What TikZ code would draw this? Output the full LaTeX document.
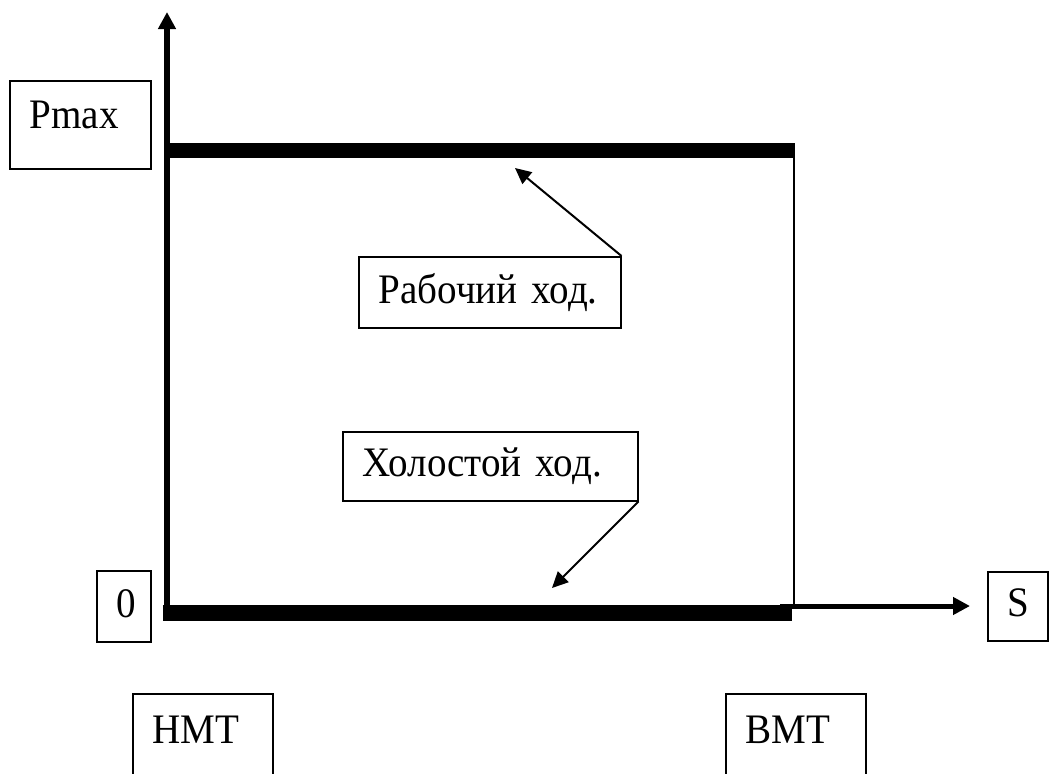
\documentclass[tikz,border=0pt]{standalone}
\usepackage{fontspec}
\setmainfont{Liberation Serif}[FakeStretch=0.93]
\usetikzlibrary{arrows.meta}
\begin{document}
\begin{tikzpicture}[x=1pt,y=-1pt,
  box/.style={draw, line width=1.5pt, inner xsep=20pt, inner ysep=0pt, minimum height=0pt,
              align=left, anchor=north west, font=\fontsize{42}{50}\selectfont},
  axisline/.style={line width=6pt, -{Triangle[length=17pt,width=17pt]}},
  barline/.style={line width=15pt},
  thinline/.style={line width=2pt},
  pointer/.style={line width=2pt, -{Triangle[length=16pt,width=15pt]}}]
\clip (0,0) rectangle (1050,774);
\fill[white] (0,0) rectangle (1050,774);

% boxes (text left-aligned, 20pt from the left edge)
\node[box, text width=101pt, text height=48pt, text depth=40pt] (pmax) at (9,80) {Pmax};
\node[box, text width=222pt, text height=47pt, text depth=24pt] (rab) at (358,256) {Рабочий ход.};
\node[box, text width=255pt, text height=45pt, text depth=24pt] (hol) at (342,431) {Холостой ход.};
\node[box, text width=14pt, text height=47pt, text depth=24pt] (zero) at (96,570) {0};
\node[box, text width=20pt, text height=45pt, text depth=24pt] (s) at (987,571) {S};
\node[box, text width=100pt, text height=50pt, text depth=60pt] (nmt) at (132,693) {НМТ};
\node[box, text width=100pt, text height=50pt, text depth=60pt] (vmt) at (725,693) {ВМТ};

% coordinates
\coordinate (ytip) at (167,12);
\coordinate (ybase) at (167,613);
\coordinate (tl) at (167,150.5);
\coordinate (tr) at (795,150.5);
\coordinate (rt) at (794,143);
\coordinate (rb) at (794,606);
\coordinate (bl) at (163,613);
\coordinate (br) at (792,613);
\coordinate (xbase) at (780,606);
\coordinate (xtip) at (970,606);
\coordinate (rabtip) at (515,168);
\coordinate (holtip) at (552,588);

% axes and cycle
\draw[axisline] (ybase) -- (ytip);
\draw[barline] (tl) -- (tr);
\draw[thinline] (rt) -- (rb);
\draw[line width=16pt] (bl) -- (br);
\draw[axisline, line width=5pt] (xbase) -- (xtip);

% pointers
\draw[pointer] (rab.north east) -- (rabtip);
\draw[pointer] (hol.south east) -- (holtip);
\end{tikzpicture}
\end{document}
